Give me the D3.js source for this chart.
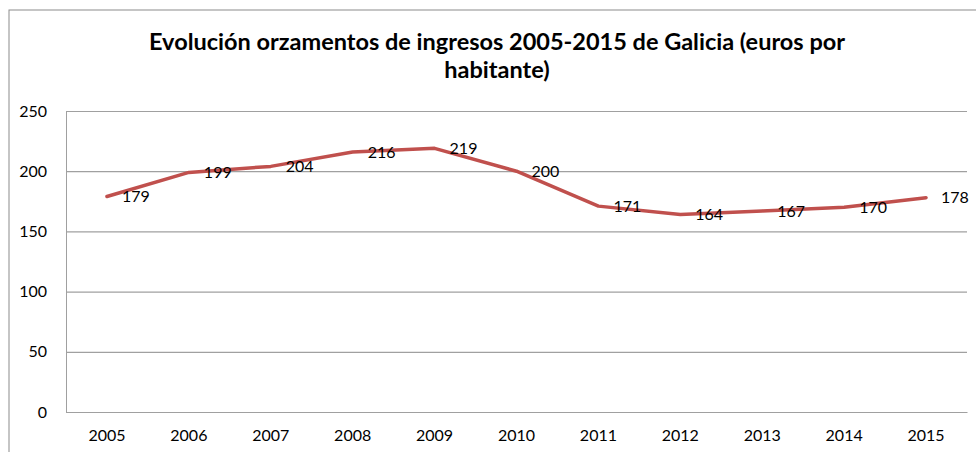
<!DOCTYPE html>
<html>
<head>
<meta charset="utf-8">
<script src="https://cdn.jsdelivr.net/npm/d3@7"></script>
<style>
  body { margin: 0; background: #fff; }
  text { font-family: Lato, "Open Sans", sans-serif; fill: #000; }
</style>
</head>
<body>
<div id="chart"></div>
<script>
var years = ["2005", "2006", "2007", "2008", "2009", "2010", "2011", "2012", "2013", "2014", "2015"];
var values = [179, 199, 204, 216, 219, 200, 171, 164, 167, 170, 178];
var yTicks = [0, 50, 100, 150, 200, 250];
var titleLines = ["Evolución orzamentos de ingresos 2005-2015 de Galicia (euros por", "habitante)"];

var svgWidth = 976;
var svgHeight = 452;

var margin = { top: 111, right: 9, bottom: 40, left: 66 };
var width = svgWidth - margin.left - margin.right;
var height = svgHeight - margin.top - margin.bottom;

var svg = d3.select("#chart")
  .append("svg")
  .attr("width", svgWidth)
  .attr("height", svgHeight);

// outer chart border (runs off the right and bottom edges)
svg.append("rect")
  .attr("x", 9)
  .attr("y", 10)
  .attr("width", 980)
  .attr("height", 460)
  .attr("fill", "none")
  .attr("stroke", "#8c8c8c")
  .attr("stroke-width", 1);

// title
svg.append("text")
  .attr("x", 497)
  .attr("y", 50)
  .attr("text-anchor", "middle")
  .style("font-size", "23.5px")
  .style("font-weight", "bold")
  .selectAll("tspan")
  .data(titleLines)
  .enter()
  .append("tspan")
  .attr("x", 497)
  .attr("dy", (d, i) => i === 0 ? 0 : 28)
  .text(d => d);

var chartGroup = svg.append("g")
  .attr("transform", `translate(${margin.left}, ${margin.top})`);

var xScale = d3.scaleBand()
  .domain(years)
  .range([0, width])
  .padding(0);

var yScale = d3.scaleLinear()
  .domain([0, 250])
  .range([height, 0]);

// gridlines + y labels
var leftAxis = d3.axisLeft(yScale)
  .tickValues(yTicks)
  .tickSize(-width)
  .tickPadding(19);

var yAxis = chartGroup.append("g").call(leftAxis);
yAxis.select(".domain").attr("stroke", "#a0a0a0");
yAxis.selectAll(".tick line").attr("stroke", "#a0a0a0").attr("stroke-width", 1.2);
yAxis.selectAll(".tick text").style("font-size", "16px").style("font-family", "Lato, sans-serif");

var bottomAxis = d3.axisBottom(xScale)
  .tickSize(0)
  .tickPadding(18);

var xAxis = chartGroup.append("g")
  .attr("transform", `translate(0, ${height})`)
  .call(bottomAxis);
xAxis.select(".domain").attr("stroke", "#a0a0a0").attr("stroke-width", 1.2);
xAxis.selectAll(".tick text").style("font-size", "16px").style("font-family", "Lato, sans-serif");

var cx = (d, i) => xScale(years[i]) + xScale.bandwidth() / 2;

var line = d3.line()
  .x((d, i) => cx(d, i))
  .y(d => yScale(d));

chartGroup.append("path")
  .datum(values)
  .attr("d", line)
  .attr("fill", "none")
  .attr("stroke", "#c0504d")
  .attr("stroke-width", 3.5)
  .attr("stroke-linejoin", "round")
  .attr("stroke-linecap", "round");

// value labels to the right of each point
chartGroup.selectAll("text.valueLabel")
  .data(values)
  .enter()
  .append("text")
  .attr("class", "valueLabel")
  .attr("x", (d, i) => cx(d, i) + 15)
  .attr("y", d => yScale(d))
  .attr("dy", "0.36em")
  .style("font-size", "16px")
  .text(d => d);
</script>
</body>
</html>
